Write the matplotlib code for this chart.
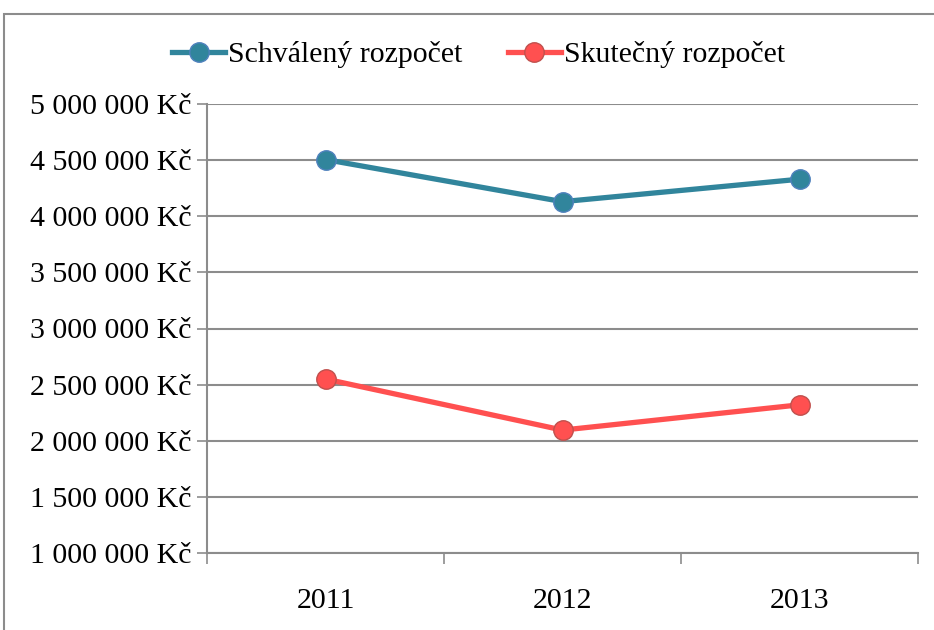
import matplotlib
matplotlib.use("Agg")
import matplotlib.pyplot as plt
from matplotlib.patches import Rectangle
from matplotlib.ticker import FuncFormatter

years = ["2011", "2012", "2013"]
schvaleny = [4505000, 4130000, 4330000]
skutecny = [2550000, 2095000, 2320000]
yticks = [1000000, 1500000, 2000000, 2500000, 3000000, 3500000, 4000000, 4500000, 5000000]

plt.rcParams['font.family'] = ['Liberation Serif', 'DejaVu Serif']

W, H = 934, 630
fig = plt.figure(figsize=(W / 100, H / 100), dpi=100)
ax = fig.add_axes([207 / W, 1 - 553 / H, (918 - 207) / W, (553 - 104) / H])

# outer frame
fig.patches.append(Rectangle((4 / W, -0.1), 1.2, (1 - 14 / H) + 0.1, transform=fig.transFigure,
                             fill=False, edgecolor='#8c8c8c', linewidth=1.5))

x = list(range(len(years)))
ax.plot(x, schvaleny, color='#31859C', linewidth=3.8, marker='o', markersize=14,
        markerfacecolor='#31859C', markeredgecolor='#4F81BD', markeredgewidth=1,
        label='Schválený rozpočet', zorder=3)
ax.plot(x, skutecny, color='#FF5050', linewidth=3.8, marker='o', markersize=14,
        markerfacecolor='#FF5050', markeredgecolor='#C0504D', markeredgewidth=1,
        label='Skutečný rozpočet', zorder=3)

ax.set_xlim(-0.5, 2.5)
ax.set_ylim(1000000, 5000000)
ax.set_yticks(yticks)

def fmt(v, pos):
    s = f"{int(v):,}".replace(",", " ")
    return s + " Kč"
ax.yaxis.set_major_formatter(FuncFormatter(fmt))

ax.set_xticks([-0.5, 0.5, 1.5, 2.5], minor=False)
ax.set_xticklabels([])
ax.set_xticks(x, minor=True)
ax.set_xticklabels(years, minor=True)
ax.tick_params(axis='x', which='minor', length=0, pad=25, labelsize=21.5)
ax.tick_params(axis='x', which='major', length=8, color='#8c8c8c', width=1.2, direction='out')
ax.tick_params(axis='y', length=7, color='#8c8c8c', width=1.2, direction='out', labelsize=21.5, pad=4)

ax.grid(axis='y', color='#8c8c8c', linewidth=1.5)
ax.set_axisbelow(True)
for s in ['top', 'right']:
    ax.spines[s].set_visible(False)
for s in ['left', 'bottom']:
    ax.spines[s].set_color('#8c8c8c')
    ax.spines[s].set_linewidth(1.5)

leg = fig.legend(loc='center', bbox_to_anchor=(478.5 / W, 1 - 55 / H), ncol=2, frameon=False,
                 fontsize=21.5, handlelength=1.78, handletextpad=0.1, columnspacing=1.5)

fig.savefig("out.png", dpi=100)
